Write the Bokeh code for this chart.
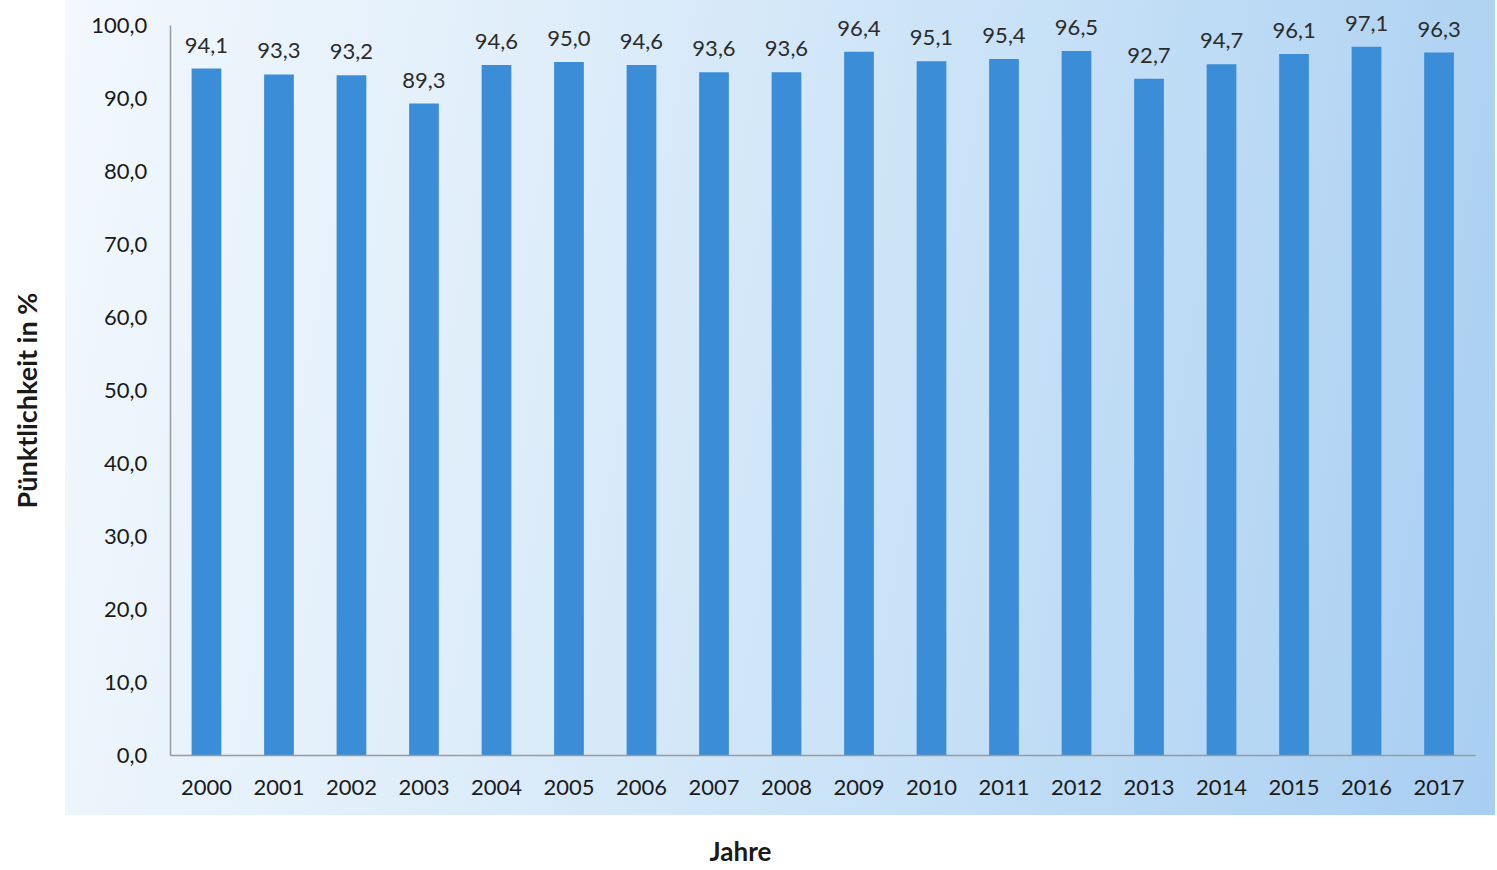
import math
from bokeh.plotting import figure
from bokeh.models import (ColumnDataSource, FixedTicker, CustomJSTickFormatter, Label,
                          LabelSet, Range1d)
from bokeh.core.properties import value
from bokeh.embed import file_html
from bokeh.resources import INLINE

years = ["2000", "2001", "2002", "2003", "2004", "2005", "2006", "2007", "2008",
         "2009", "2010", "2011", "2012", "2013", "2014", "2015", "2016", "2017"]
punctuality = [94.1, 93.3, 93.2, 89.3, 94.6, 95.0, 94.6, 93.6, 93.6,
               96.4, 95.1, 95.4, 96.5, 92.7, 94.7, 96.1, 97.1, 96.3]
y_ticks = [0, 10, 20, 30, 40, 50, 60, 70, 80, 90, 100]
y_title = "Pünktlichkeit in %"
x_title = "Jahre"

idx = list(range(len(years)))
labels = [f"{v:.1f}".replace(".", ",") for v in punctuality]
src = ColumnDataSource(dict(x=idx, val=punctuality, lab=labels))

FONT = "Lato"
W, H = 1495, 869

p = figure(width=W, height=H,
           x_range=Range1d(-2.841, 17.779), y_range=Range1d(-15.616, 103.425),
           output_backend="svg", toolbar_location=None, tools="")
p.min_border = 0
p.border_fill_color = None
p.background_fill_color = None
p.outline_line_color = None
p.styles = {
    "background-image": "linear-gradient(100deg, #f2f8fd 0%, #e0eefa 30%, #c9e2f7 60%, #a8cef1 100%)",
    "background-repeat": "no-repeat",
    "background-size": "1430px 815px",
    "background-position": "65px 0px",
}

p.vbar(x="x", top="val", width=0.41, source=src, fill_color="#3a8dd6", line_color=None)
p.add_layout(LabelSet(x="x", y="val", text="lab", source=src, text_align="center",
                      text_baseline="bottom", y_offset=16, text_font=value(FONT),
                      text_font_size=value("22px"), text_color=value("#2b2b2b")))

p.xgrid.visible = False
p.ygrid.visible = False

for ax in (p.xaxis[0], p.yaxis[0]):
    ax.major_tick_line_color = None
    ax.minor_tick_line_color = None
    ax.axis_line_color = "#9a9a9a"
    ax.axis_line_width = 1.5
    ax.major_label_text_font = FONT
    ax.major_label_text_font_size = "22px"
    ax.major_label_text_color = "#1a1a1a"

p.xaxis.fixed_location = 0
p.xaxis.bounds = (-0.5, len(years) - 0.5)
p.xaxis.ticker = FixedTicker(ticks=idx)
p.xaxis.major_label_overrides = {i: y for i, y in zip(idx, years)}
p.xaxis.major_label_standoff = 18

p.yaxis.fixed_location = -0.5
p.yaxis.bounds = (0, 100)
p.yaxis.ticker = FixedTicker(ticks=y_ticks)
p.yaxis.formatter = CustomJSTickFormatter(code="return tick.toFixed(1).replace('.', ',');")
p.yaxis.major_label_standoff = 17

p.add_layout(Label(x=26, y=H - 400, x_units="screen", y_units="screen", text=y_title,
                   angle=math.pi / 2, text_align="center", text_baseline="middle",
                   text_font=FONT, text_font_style="bold", text_font_size="27px",
                   text_color="#1a1a1a"))
p.add_layout(Label(x=740, y=H - 850, x_units="screen", y_units="screen", text=x_title,
                   text_align="center", text_baseline="middle",
                   text_font=FONT, text_font_style="bold", text_font_size="26px",
                   text_color="#1a1a1a"))

open("out.html", "w").write(file_html(p, INLINE))
